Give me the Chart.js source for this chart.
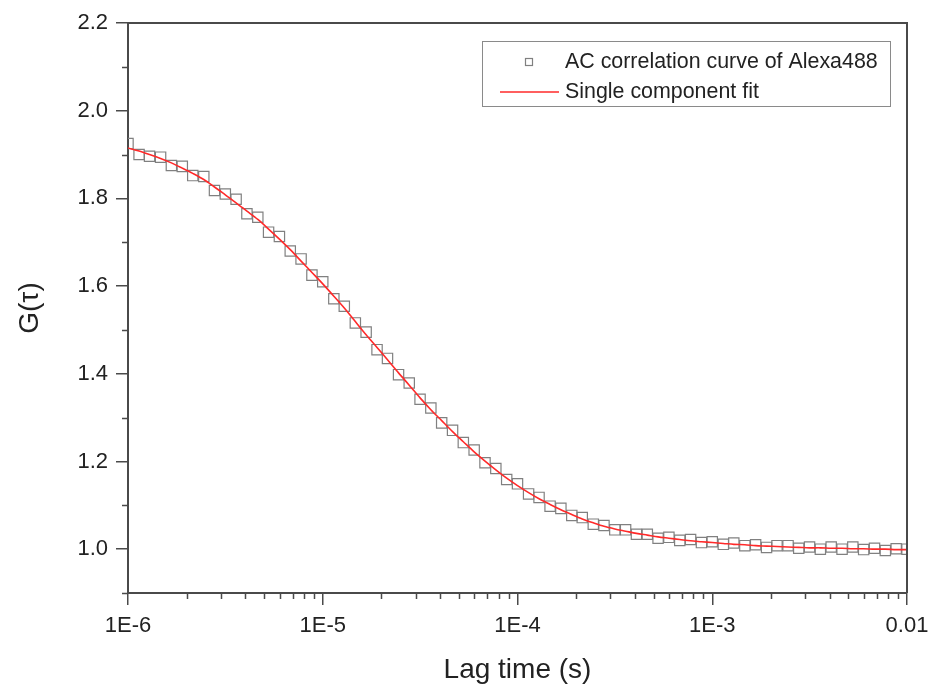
<!DOCTYPE html>
<html>
<head>
<meta charset="utf-8">
<script src="https://cdn.jsdelivr.net/npm/chart.js@4/dist/chart.umd.min.js"></script>
<style>
  body { margin: 0; background: #fff; }
  canvas { display: block; }
</style>
</head>
<body>
<canvas id="grafico" width="932" height="687"></canvas>
<script>
// lag times (s)
const tau = [
  1.00e-6, 1.14e-6, 1.29e-6, 1.47e-6, 1.67e-6, 1.90e-6, 2.15e-6, 2.45e-6, 2.78e-6,
  3.16e-6, 3.59e-6, 4.08e-6, 4.64e-6, 5.27e-6, 5.99e-6, 6.81e-6, 7.74e-6, 8.80e-6,
  1.00e-5, 1.14e-5, 1.29e-5, 1.47e-5, 1.67e-5, 1.90e-5, 2.15e-5, 2.45e-5, 2.78e-5,
  3.16e-5, 3.59e-5, 4.08e-5, 4.64e-5, 5.27e-5, 5.99e-5, 6.81e-5, 7.74e-5, 8.80e-5,
  1.00e-4, 1.14e-4, 1.29e-4, 1.47e-4, 1.67e-4, 1.90e-4, 2.15e-4, 2.45e-4, 2.78e-4,
  3.16e-4, 3.59e-4, 4.08e-4, 4.64e-4, 5.27e-4, 5.99e-4, 6.81e-4, 7.74e-4, 8.80e-4,
  1.00e-3, 1.14e-3, 1.29e-3, 1.47e-3, 1.67e-3, 1.90e-3, 2.15e-3, 2.45e-3, 2.78e-3,
  3.16e-3, 3.59e-3, 4.08e-3, 4.64e-3, 5.27e-3, 5.99e-3, 6.81e-3, 7.74e-3, 8.80e-3,
  1.00e-2
];

// measured autocorrelation G(tau)
const gMedido = [
  1.925, 1.900, 1.896, 1.894, 1.875, 1.873, 1.852, 1.850, 1.818,
  1.810, 1.798, 1.765, 1.757, 1.723, 1.713, 1.680, 1.662, 1.625,
  1.610, 1.571, 1.554, 1.516, 1.495, 1.455, 1.435, 1.398, 1.379,
  1.342, 1.322, 1.288, 1.271, 1.243, 1.226, 1.197, 1.184, 1.159,
  1.149, 1.126, 1.118, 1.098, 1.093, 1.077, 1.072, 1.057, 1.054,
  1.044, 1.044, 1.034, 1.034, 1.025, 1.027, 1.020, 1.022, 1.015,
  1.017, 1.011, 1.014, 1.008, 1.010, 1.004, 1.008, 1.008, 1.002,
  1.005, 1.000, 1.005, 1.000, 1.005, 0.999, 1.002, 0.997, 1.001,
  1.000
];

// single component fit
const gAjuste = [
  1.915, 1.908, 1.900, 1.891, 1.881, 1.869, 1.857, 1.843, 1.826,
  1.808, 1.790, 1.771, 1.752, 1.730, 1.707, 1.683, 1.657, 1.631,
  1.605, 1.577, 1.550, 1.519, 1.489, 1.460, 1.432, 1.402, 1.374,
  1.345, 1.318, 1.293, 1.268, 1.245, 1.222, 1.201, 1.181, 1.162,
  1.145, 1.129, 1.115, 1.102, 1.090, 1.079, 1.069, 1.060, 1.052,
  1.046, 1.041, 1.036, 1.032, 1.028, 1.025, 1.022, 1.019, 1.017,
  1.015, 1.013, 1.011, 1.010, 1.008, 1.007, 1.006, 1.005, 1.004,
  1.003, 1.003, 1.002, 1.002, 1.001, 1.001, 1.000, 1.000, 0.999,
  0.999
];

const xTicks = [1e-6, 1e-5, 1e-4, 1e-3, 1e-2];
const xTickLabels = ['1E-6', '1E-5', '1E-4', '1E-3', '0.01'];
const yTicks = [1.0, 1.2, 1.4, 1.6, 1.8, 2.0, 2.2];
const yMinor = [0.9, 1.1, 1.3, 1.5, 1.7, 1.9, 2.1];
const xMinorMult = [2, 3, 4, 5, 6, 7, 8, 9];

const fuente = "'Liberation Sans', Arial, sans-serif";
const colorEje = '#4a4a4a';

// frame, minor ticks and boxed legend
const extras = {
    id: 'extras',
    afterDraw(chart) {
        const ctx = chart.ctx;
        const a = chart.chartArea;
        const sx = chart.scales.x;
        const sy = chart.scales.y;
        ctx.save();
        ctx.strokeStyle = colorEje;
        ctx.lineWidth = 2;
        ctx.beginPath();
        ctx.moveTo(a.left, a.top);
        ctx.lineTo(a.right, a.top);
        ctx.lineTo(a.right, a.bottom);
        ctx.stroke();

        ctx.lineWidth = 1.5;
        ctx.beginPath();
        yMinor.forEach(v => {
            const y = Math.round(sy.getPixelForValue(v)) + 0.5;
            ctx.moveTo(a.left, y);
            ctx.lineTo(a.left - 6, y);
        });
        xTicks.slice(0, -1).forEach(d => {
            xMinorMult.forEach(m => {
                const x = Math.round(sx.getPixelForValue(d * m)) + 0.5;
                ctx.moveTo(x, a.bottom);
                ctx.lineTo(x, a.bottom + 6);
            });
        });
        ctx.stroke();

        // legend
        const ds = chart.data.datasets;
        const bx = a.right - 425, by = a.top + 18, bw = 408, bh = 65;
        ctx.fillStyle = '#fff';
        ctx.fillRect(bx, by, bw, bh);
        ctx.strokeStyle = '#8a8a8a';
        ctx.lineWidth = 1;
        ctx.strokeRect(bx + 0.5, by + 0.5, bw, bh);

        ctx.strokeStyle = ds[0].borderColor;
        ctx.lineWidth = 1.2;
        ctx.strokeRect(bx + 43.5, by + 17.5, 7, 7);

        ctx.strokeStyle = ds[1].borderColor;
        ctx.lineWidth = 1.5;
        ctx.beginPath();
        ctx.moveTo(bx + 18, by + 51);
        ctx.lineTo(bx + 77, by + 51);
        ctx.stroke();

        ctx.fillStyle = '#222';
        ctx.font = '21.4px ' + fuente;
        ctx.textBaseline = 'middle';
        ctx.textAlign = 'left';
        ctx.fillText(ds[0].label, bx + 83, by + 21);
        ctx.fillText(ds[1].label, bx + 83, by + 51);
        ctx.restore();
    }
};

const config = {
    type: 'scatter',
    data: {
        datasets: [{
            label: 'AC correlation curve of Alexa488',
            data: tau.map((t, i) => ({ x: t, y: gMedido[i] })),
            pointStyle: 'rect',
            pointRadius: 7.3,
            pointBorderWidth: 1.2,
            borderColor: '#808080',
            backgroundColor: 'rgba(0,0,0,0)',
            order: 2
        }, {
            label: 'Single component fit',
            data: tau.map((t, i) => ({ x: t, y: gAjuste[i] })),
            showLine: true,
            pointRadius: 0,
            borderColor: '#ff2a2a',
            borderWidth: 1.6,
            tension: 0.3,
            order: 1
        }]
    },
    options: {
        responsive: false,
        animation: false,
        devicePixelRatio: 1,
        layout: { padding: { top: 23, right: 25, left: 0, bottom: 0 } },
        plugins: {
            legend: { display: false },
            tooltip: { enabled: false }
        },
        scales: {
            x: {
                type: 'logarithmic',
                min: 1e-6,
                max: 1e-2,
                afterBuildTicks: s => { s.ticks = xTicks.map(v => ({ value: v })); },
                afterFit: s => { s.height = 94; s.paddingLeft = 0; s.paddingRight = 0; },
                grid: { drawOnChartArea: false, tickLength: 12, color: colorEje, lineWidth: 1.5 },
                border: { color: colorEje, width: 2 },
                ticks: {
                    autoSkip: false,
                    maxRotation: 0,
                    padding: 8,
                    color: '#222',
                    font: { family: fuente, size: 22 },
                    callback: (v) => xTickLabels[xTicks.findIndex(t => Math.abs(t - v) / t < 1e-6)]
                },
                title: {
                    display: true,
                    text: 'Lag time (s)',
                    color: '#222',
                    font: { family: fuente, size: 28 },
                    padding: { top: 3, bottom: 0 }
                }
            },
            y: {
                min: 0.9,
                max: 2.2,
                afterBuildTicks: s => { s.ticks = yTicks.map(v => ({ value: v })); },
                afterFit: s => { s.width = 128; s.paddingTop = 0; s.paddingBottom = 0; },
                grid: { drawOnChartArea: false, tickLength: 12, color: colorEje, lineWidth: 1.5 },
                border: { color: colorEje, width: 2 },
                ticks: {
                    padding: 8,
                    color: '#222',
                    font: { family: fuente, size: 22 },
                    callback: v => v.toFixed(1)
                },
                title: {
                    display: true,
                    text: 'G(τ)',
                    color: '#222',
                    font: { family: fuente, size: 28 },
                    padding: { top: 13, bottom: 0 }
                }
            }
        }
    },
    plugins: [extras]
};

new Chart(document.getElementById('grafico'), config);
</script>
</body>
</html>
